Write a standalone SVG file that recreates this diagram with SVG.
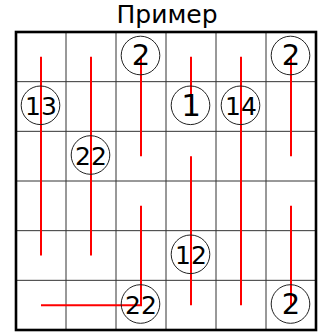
<svg xmlns="http://www.w3.org/2000/svg" width="325" height="333" viewBox="0 0 325 333">
<style>
.grid{stroke:#333;stroke-width:1;fill:none}
.border{stroke:#000;stroke-width:2.6;fill:none}
.red{stroke:#f00;stroke-width:2;fill:none}
.c{fill:none;stroke:#222;stroke-width:1}
text{font-family:"DejaVu Sans",sans-serif;fill:#000;text-anchor:middle}
.n2{font-size:25px}
.n1{font-size:29px}
.title{font-size:25px}
</style>
<rect width="325" height="333" fill="#fff"/>
<text class="title" x="167" y="23">Пример</text>
<g id="grid">
<path class="grid" d="M66,32V330M116,32V330M166,32V330M216,32V330M266,32V330M16,81.67H316M16,131.33H316M16,181H316M16,230.67H316M16,280.33H316"/>
<rect class="border" x="16" y="32" width="300" height="298"/>
</g>
<g id="connectors">
<path class="red" d="M41,56.8V255.5"/>
<path class="red" d="M91,56.8V255.5"/>
<path class="red" d="M141,56.8V156.2"/>
<path class="red" d="M141,205.8V305.2H41"/>
<path class="red" d="M191,56.8V106.5"/>
<path class="red" d="M191,156.2V305.2"/>
<path class="red" d="M241,56.8V305.2"/>
<path class="red" d="M291,56.8V156.2"/>
<path class="red" d="M291,205.8V305.2"/>
</g>
<g id="n-2a"><circle class="c" cx="140.5" cy="55.5" r="19.3"/><text class="n1" x="141" y="65">2</text></g>
<g id="n-2b"><circle class="c" cx="290.5" cy="55.5" r="19.3"/><text class="n1" x="291" y="65">2</text></g>
<g id="n-13"><circle class="c" cx="40.5" cy="105.3" r="19.3"/><text class="n2" x="41" y="115">13</text></g>
<g id="n-1"><circle class="c" cx="190.5" cy="105.3" r="19.3"/><text class="n1" x="191" y="116.3" style="font-size:31px">1</text></g>
<g id="n-14"><circle class="c" cx="240.5" cy="105.3" r="19.3"/><text class="n2" x="241" y="115">14</text></g>
<g id="n-22a"><circle class="c" cx="90.5" cy="155" r="19.3"/><text class="n2" x="91" y="164.7">22</text></g>
<g id="n-12"><circle class="c" cx="190.5" cy="254.3" r="19.3"/><text class="n2" x="191" y="264.3">12</text></g>
<g id="n-22b"><circle class="c" cx="140.5" cy="304" r="19.3"/><text class="n2" x="141" y="314">22</text></g>
<g id="n-2c"><circle class="c" cx="290.5" cy="304" r="19.3"/><text class="n1" x="291" y="314">2</text></g>
</svg>
